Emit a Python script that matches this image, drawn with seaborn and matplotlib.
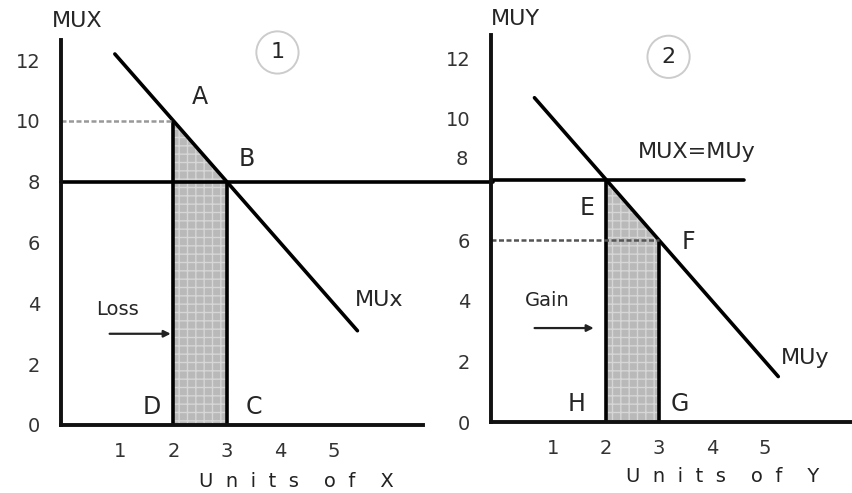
import numpy as np
import pandas as pd
import seaborn as sns
import matplotlib.pyplot as plt

# data
units = [1, 2, 3, 4, 5]
mu_ticks = [0, 2, 4, 6, 8, 10, 12]
mux_x = [0.9, 5.45]
mux_y = [14 - 2 * v for v in mux_x]
muy_x = [0.65, 5.25]
muy_y = [12 - 2 * v for v in muy_x]
equal_mu = 8
loss_x = [2, 3]
loss_y = [10, 8]
gain_x = [2, 3]
gain_y = [8, 6]

sns.set_theme(style="white")
plt.rcParams['font.family'] = ['DejaVu Sans']

fig = plt.figure(figsize=(8.53, 4.93), dpi=100)
ax1 = fig.add_axes([61 / 853, 68 / 493, 362 / 853, 385 / 493])
ax2 = fig.add_axes([491 / 853, 71 / 493, 362 / 853, 387 / 493])
ax2.set_facecolor('none')

# panel 1 : MUx
df1 = pd.DataFrame({'x': mux_x, 'y': mux_y})
sns.lineplot(data=df1, x='x', y='y', ax=ax1, color='black', lw=2.6)
xs = np.linspace(loss_x[0], loss_x[1], 50)
ax1.fill_between(xs, 0, 14 - 2 * xs, facecolor='#b9b9b9', edgecolor='#d6d6d6',
                 hatch='++', linewidth=0)
ax1.vlines(loss_x, 0, loss_y, color='black', lw=2.6)
ax1.hlines(loss_y[0], -0.11, loss_x[0], color='#999999', lw=1.8, linestyles=(0, (2, 1)))
ax1.plot([-0.11, 8.0], [equal_mu, equal_mu], color='black', lw=2.6, clip_on=False)

# panel 2 : MUy
df2 = pd.DataFrame({'x': muy_x, 'y': muy_y})
sns.lineplot(data=df2, x='x', y='y', ax=ax2, color='black', lw=2.6)
xs = np.linspace(gain_x[0], gain_x[1], 50)
ax2.fill_between(xs, 0, 12 - 2 * xs, facecolor='#b9b9b9', edgecolor='#d6d6d6',
                 hatch='++', linewidth=0)
ax2.vlines(gain_x, 0, gain_y, color='black', lw=2.6)
ax2.hlines(gain_y[1], -0.17, gain_x[1], color='#555555', lw=1.8, linestyles=(0, (2, 1)))
ax2.plot([-0.17, 4.6], [equal_mu, equal_mu], color='black', lw=2.6, clip_on=False)

ax1.set_xlim(-0.11, 6.68)
ax1.set_ylim(0, 12.66)
ax2.set_xlim(-0.17, 6.66)
ax2.set_ylim(0, 12.77)

for ax in (ax1, ax2):
    sns.despine(ax=ax)
    for s in ('left', 'bottom'):
        ax.spines[s].set_linewidth(2.8)
        ax.spines[s].set_color('#111111')
    ax.set_xticks(units)
    ax.set_yticks(mu_ticks)
    ax.tick_params(axis='x', direction='out', length=7, width=1.5, color='#333333',
                   labelsize=14, labelcolor='#333333', pad=5)
    ax.tick_params(axis='y', direction='out', length=3, width=1.5, color='#555555',
                   labelsize=14, labelcolor='#333333', pad=12)
    ax.set_xlabel('')
    ax.set_ylabel('')

# the "8" of panel 2 sits above the MUX=MUy line
ax2.set_yticklabels(['0', '2', '4', '6', '', '10', '12'])
ax2.text(-0.6, 8.65, '8', fontsize=14, color='#333333', ha='right', va='center')

ax1.text(2.5, 10.8, 'A', fontsize=17, ha='center', va='center')
ax1.text(3.38, 8.75, 'B', fontsize=17, ha='center', va='center')
ax1.text(1.6, 0.6, 'D', fontsize=17, ha='center', va='center')
ax1.text(3.5, 0.6, 'C', fontsize=17, ha='center', va='center')
ax1.text(0.95, 3.8, 'Loss', fontsize=14, ha='center', va='center')
ax1.annotate('', xy=(2.0, 3.0), xytext=(0.75, 3.0),
             arrowprops=dict(arrowstyle='-|>', color='#222222', lw=1.6, mutation_scale=10))
ax1.text(5.4, 4.1, 'MUx', fontsize=16, ha='left', va='center')
ax1.text(0.2, 13.3, 'MUX', fontsize=16, ha='center', va='center', clip_on=False)
ax1.text(3.95, 12.25, '1', fontsize=16, ha='center', va='center',
         bbox=dict(boxstyle='circle,pad=0.5', fc='white', ec='#cccccc', lw=1.4))
ax1.text(4.3, -1.85, 'U  n  i  t  s    o  f    X', fontsize=14, ha='center',
         va='center', color='#222222', clip_on=False)

ax2.text(1.64, 7.05, 'E', fontsize=17, ha='center', va='center')
ax2.text(3.55, 5.95, 'F', fontsize=17, ha='center', va='center')
ax2.text(1.45, 0.6, 'H', fontsize=17, ha='center', va='center')
ax2.text(3.4, 0.6, 'G', fontsize=17, ha='center', va='center')
ax2.text(0.9, 4.0, 'Gain', fontsize=14, ha='center', va='center')
ax2.annotate('', xy=(1.82, 3.1), xytext=(0.6, 3.1),
             arrowprops=dict(arrowstyle='-|>', color='#222222', lw=1.6, mutation_scale=10))
ax2.text(5.3, 2.1, 'MUy', fontsize=16, ha='left', va='center')
ax2.text(2.6, 8.9, 'MUX=MUy', fontsize=16, ha='left', va='center')
ax2.text(0.3, 13.3, 'MUY', fontsize=16, ha='center', va='center', clip_on=False)
ax2.text(3.18, 12.05, '2', fontsize=16, ha='center', va='center',
         bbox=dict(boxstyle='circle,pad=0.5', fc='white', ec='#cccccc', lw=1.4))
ax2.text(4.2, -1.8, 'U  n  i  t  s    o  f    Y', fontsize=14, ha='center',
         va='center', color='#222222', clip_on=False)

fig.savefig('out.png', dpi=100, facecolor='white')
